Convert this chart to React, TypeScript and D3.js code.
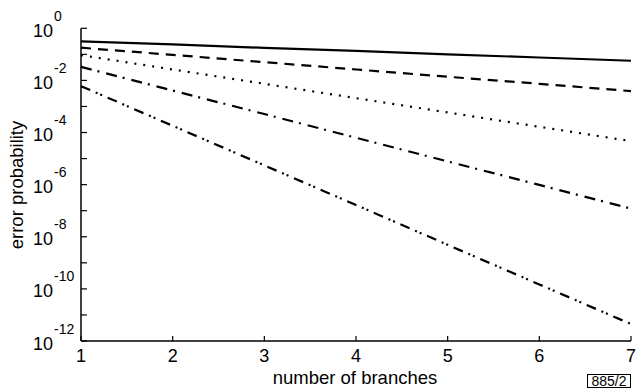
import React, { useRef, useEffect } from 'react';
import * as d3 from 'd3';

// number of branches
const branches = [1, 2, 3, 4, 5, 6, 7];

// error probability per curve
const solid = [0.316, 0.24, 0.178, 0.135, 0.1, 0.0759, 0.0569];
const dashed = [0.18, 0.0955, 0.0501, 0.0263, 0.0138, 0.00741, 0.00389];
const dotted = [0.0933, 0.0263, 0.00741, 0.00209, 5.89e-4, 1.66e-4, 4.68e-5];
const dashDot = [0.0331, 0.00407, 5.13e-4, 6.31e-5, 7.76e-6, 9.77e-7, 1.2e-7];
const dashDotDot = [6.03e-3, 1.82e-4, 5.5e-6, 1.66e-7, 4.9e-9, 1.48e-10, 4.47e-12];

const yTickExps = [0, -1, -2, -3, -4, -5, -6, -7, -8, -9, -10, -11, -12];
const yLabelExps = [0, -2, -4, -6, -8, -10, -12];

const FONT = '"Liberation Sans", Arial, Helvetica, sans-serif';

function App() {
  const svgRef = useRef<SVGSVGElement>(null);

  useEffect(() => {
    const svg = d3.select(svgRef.current);
    svg.selectAll('*').remove();

    const left = 81, right = 631, top = 28.3, bottom = 341;

    const x = d3.scaleLinear().domain([1, 7]).range([left, right]);
    const y = d3.scaleLog().domain([1, 1e-12]).range([top, bottom]);

    // curves
    const series = [
      { values: solid, dash: null },
      { values: dashed, dash: '10,7' },
      { values: dotted, dash: '2,7' },
      { values: dashDot, dash: '11,6,2,7' },
      { values: dashDotDot, dash: '10,6,2,3,2,6' },
    ];

    const line = d3.line<number>()
      .x((_, i) => x(branches[i]))
      .y(d => y(d));

    series.forEach(s => {
      svg.append('path')
        .attr('d', line(s.values))
        .attr('fill', 'none')
        .attr('stroke', '#000')
        .attr('stroke-width', 2.2)
        .attr('stroke-dasharray', s.dash);
    });

    // axes lines
    svg.append('line')
      .attr('x1', left).attr('x2', left)
      .attr('y1', top).attr('y2', bottom)
      .attr('stroke', '#000').attr('stroke-width', 1.5);
    svg.append('line')
      .attr('x1', left).attr('x2', right)
      .attr('y1', bottom).attr('y2', bottom)
      .attr('stroke', '#000').attr('stroke-width', 1.5);

    // y ticks (inward)
    svg.selectAll('.ytick')
      .data(yTickExps)
      .enter()
      .append('line')
      .attr('x1', left).attr('x2', left + 6)
      .attr('y1', d => y(Math.pow(10, d)))
      .attr('y2', d => y(Math.pow(10, d)))
      .attr('stroke', '#000').attr('stroke-width', 1.2);

    // y labels 10^n
    const yl = svg.selectAll('.ylab')
      .data(yLabelExps)
      .enter()
      .append('g');
    yl.append('text')
      .attr('x', 53)
      .attr('y', d => y(Math.pow(10, d)) + 8.5)
      .attr('text-anchor', 'end')
      .attr('font-family', FONT)
      .attr('font-size', 18)
      .text('10');
    yl.append('text')
      .attr('x', 54)
      .attr('y', d => y(Math.pow(10, d)) - 7.5)
      .attr('font-family', FONT)
      .attr('font-size', 14)
      .text(d => `${d}`);

    // x ticks (inward / upward)
    svg.selectAll('.xtick')
      .data(branches)
      .enter()
      .append('line')
      .attr('x1', d => x(d)).attr('x2', d => x(d))
      .attr('y1', bottom).attr('y2', bottom - 5)
      .attr('stroke', '#000').attr('stroke-width', 1.2);

    svg.selectAll('.xlab')
      .data(branches)
      .enter()
      .append('text')
      .attr('x', d => x(d))
      .attr('y', bottom + 20.5)
      .attr('text-anchor', 'middle')
      .attr('font-family', FONT)
      .attr('font-size', 18)
      .text(d => d);

    // axis titles
    svg.append('text')
      .attr('x', 355)
      .attr('y', 384)
      .attr('text-anchor', 'middle')
      .attr('font-family', FONT)
      .attr('font-size', 18.5)
      .text('number of branches');

    svg.append('text')
      .attr('transform', 'translate(23,185) rotate(-90)')
      .attr('text-anchor', 'middle')
      .attr('font-family', FONT)
      .attr('font-size', 18.5)
      .text('error probability');

    // figure id box
    svg.append('rect')
      .attr('x', 587.5).attr('y', 374.5)
      .attr('width', 43).attr('height', 13)
      .attr('fill', 'none').attr('stroke', '#000').attr('stroke-width', 1);
    svg.append('text')
      .attr('x', 609)
      .attr('y', 386)
      .attr('text-anchor', 'middle')
      .attr('font-family', FONT)
      .attr('font-size', 14)
      .text('885/2');
  }, []);

  return (
    <svg
      ref={svgRef}
      width={637}
      height={389}
      style={{ position: 'absolute', left: 0, top: 0, background: '#fff' }}
    />
  );
}

export default App;
